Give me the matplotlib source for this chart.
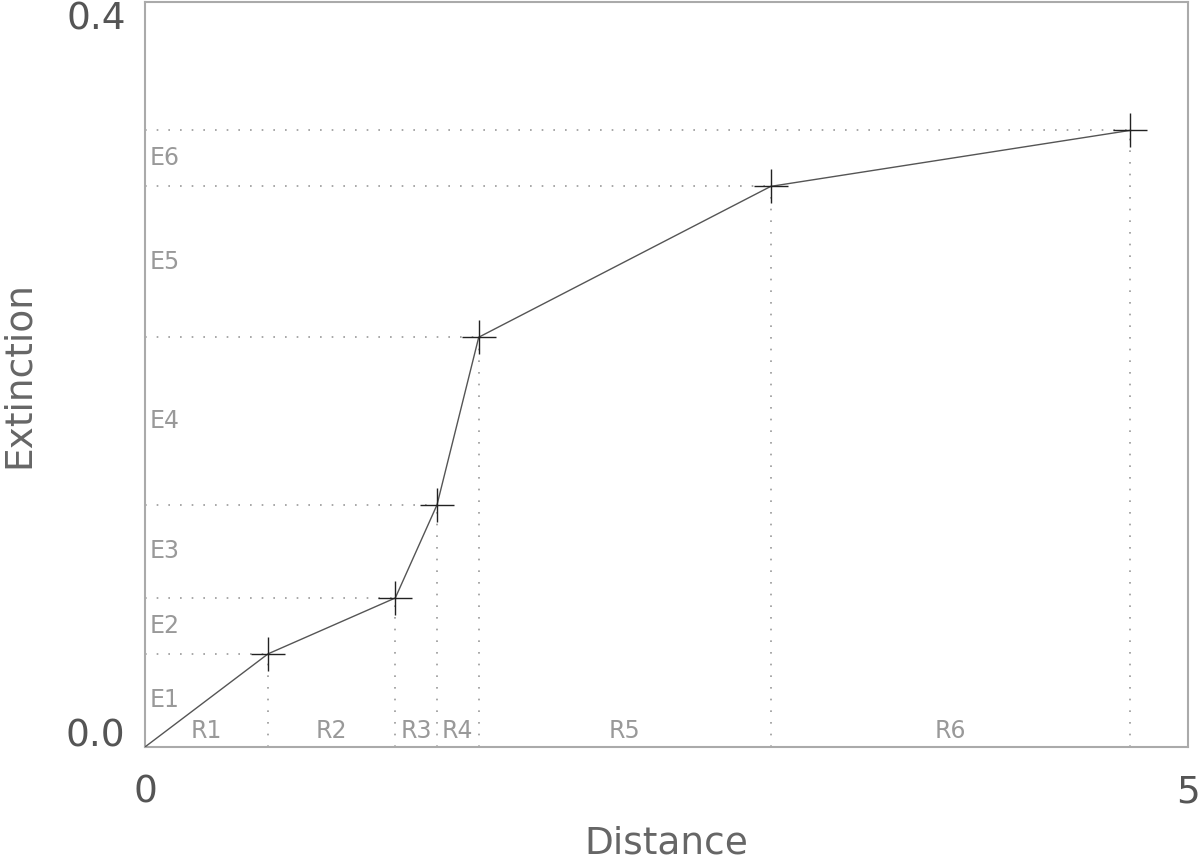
import matplotlib
matplotlib.use("Agg")
import matplotlib.pyplot as plt
import numpy as np

# break points of the extinction curve
distance = [0.0, 0.59, 1.20, 1.40, 1.60, 3.00, 4.72]
extinction = [0.0, 0.050, 0.080, 0.130, 0.220, 0.301, 0.331]
e_labels = ["E1", "E2", "E3", "E4", "E5", "E6"]
r_labels = ["R1", "R2", "R3", "R4", "R5", "R6"]

x_ticks = [0, 5]
x_ticklabels = ["0", "5"]
y_ticks = [0.0, 0.4]
y_ticklabels = ["0.0", "0.4"]

fig = plt.figure(figsize=(12, 8.58), dpi=100)
ax = fig.add_axes([0.1208, 0.1294, 0.8692, 0.8683])

axis_grey = "#aaaaaa"
text_grey = "#999999"

ax.plot(distance, extinction, color="#555555", linewidth=1.0, zorder=3)
ax.plot(distance[1:], extinction[1:], linestyle="none", marker="+",
        markersize=25, markeredgewidth=1.0, color="#222222", zorder=4)

# dotted guides from each break point to the axes
for xv, yv in zip(distance[1:], extinction[1:]):
    ax.plot([0, xv], [yv, yv], linestyle=(0, (1, 6)), color=text_grey, linewidth=1.2)
    ax.plot([xv, xv], [0, yv], linestyle=(0, (1, 6)), color=text_grey, linewidth=1.2)

# segment labels
for i, lab in enumerate(e_labels):
    ymid = 0.5 * (extinction[i] + extinction[i + 1])
    ax.text(0.02, ymid, lab, ha="left", va="center", fontsize=17, color=text_grey)
for i, lab in enumerate(r_labels):
    xmid = 0.5 * (distance[i] + distance[i + 1])
    ax.text(xmid, 0.0085, lab, ha="center", va="center", fontsize=17, color=text_grey)

ax.set_xlim(0, 5)
ax.set_ylim(0, 0.4)
ax.set_xticks(x_ticks)
ax.set_xticklabels(x_ticklabels)
ax.set_yticks(y_ticks)
ax.set_yticklabels(y_ticklabels)
ax.tick_params(length=0, labelsize=27, labelcolor="#555555")
ax.tick_params(axis="x", pad=20)
ax.tick_params(axis="y", pad=14)
ylabs = ax.get_yticklabels()
ylabs[0].set_verticalalignment("baseline")
ylabs[1].set_verticalalignment("top")
for s in ax.spines.values():
    s.set_color(axis_grey)
    s.set_linewidth(1.5)

# axis titles placed directly in figure coords (the bottom one runs off the edge like the original)
fig.text(666 / 1200, 1 - 826 / 858, "Distance", ha="center", va="top",
         fontsize=27, color="#666666")
fig.text(1 / 1200, 1 - 375 / 858, "Extinction", rotation=90, ha="left", va="center",
         fontsize=27, color="#666666")

fig.savefig("out.png", dpi=100)
